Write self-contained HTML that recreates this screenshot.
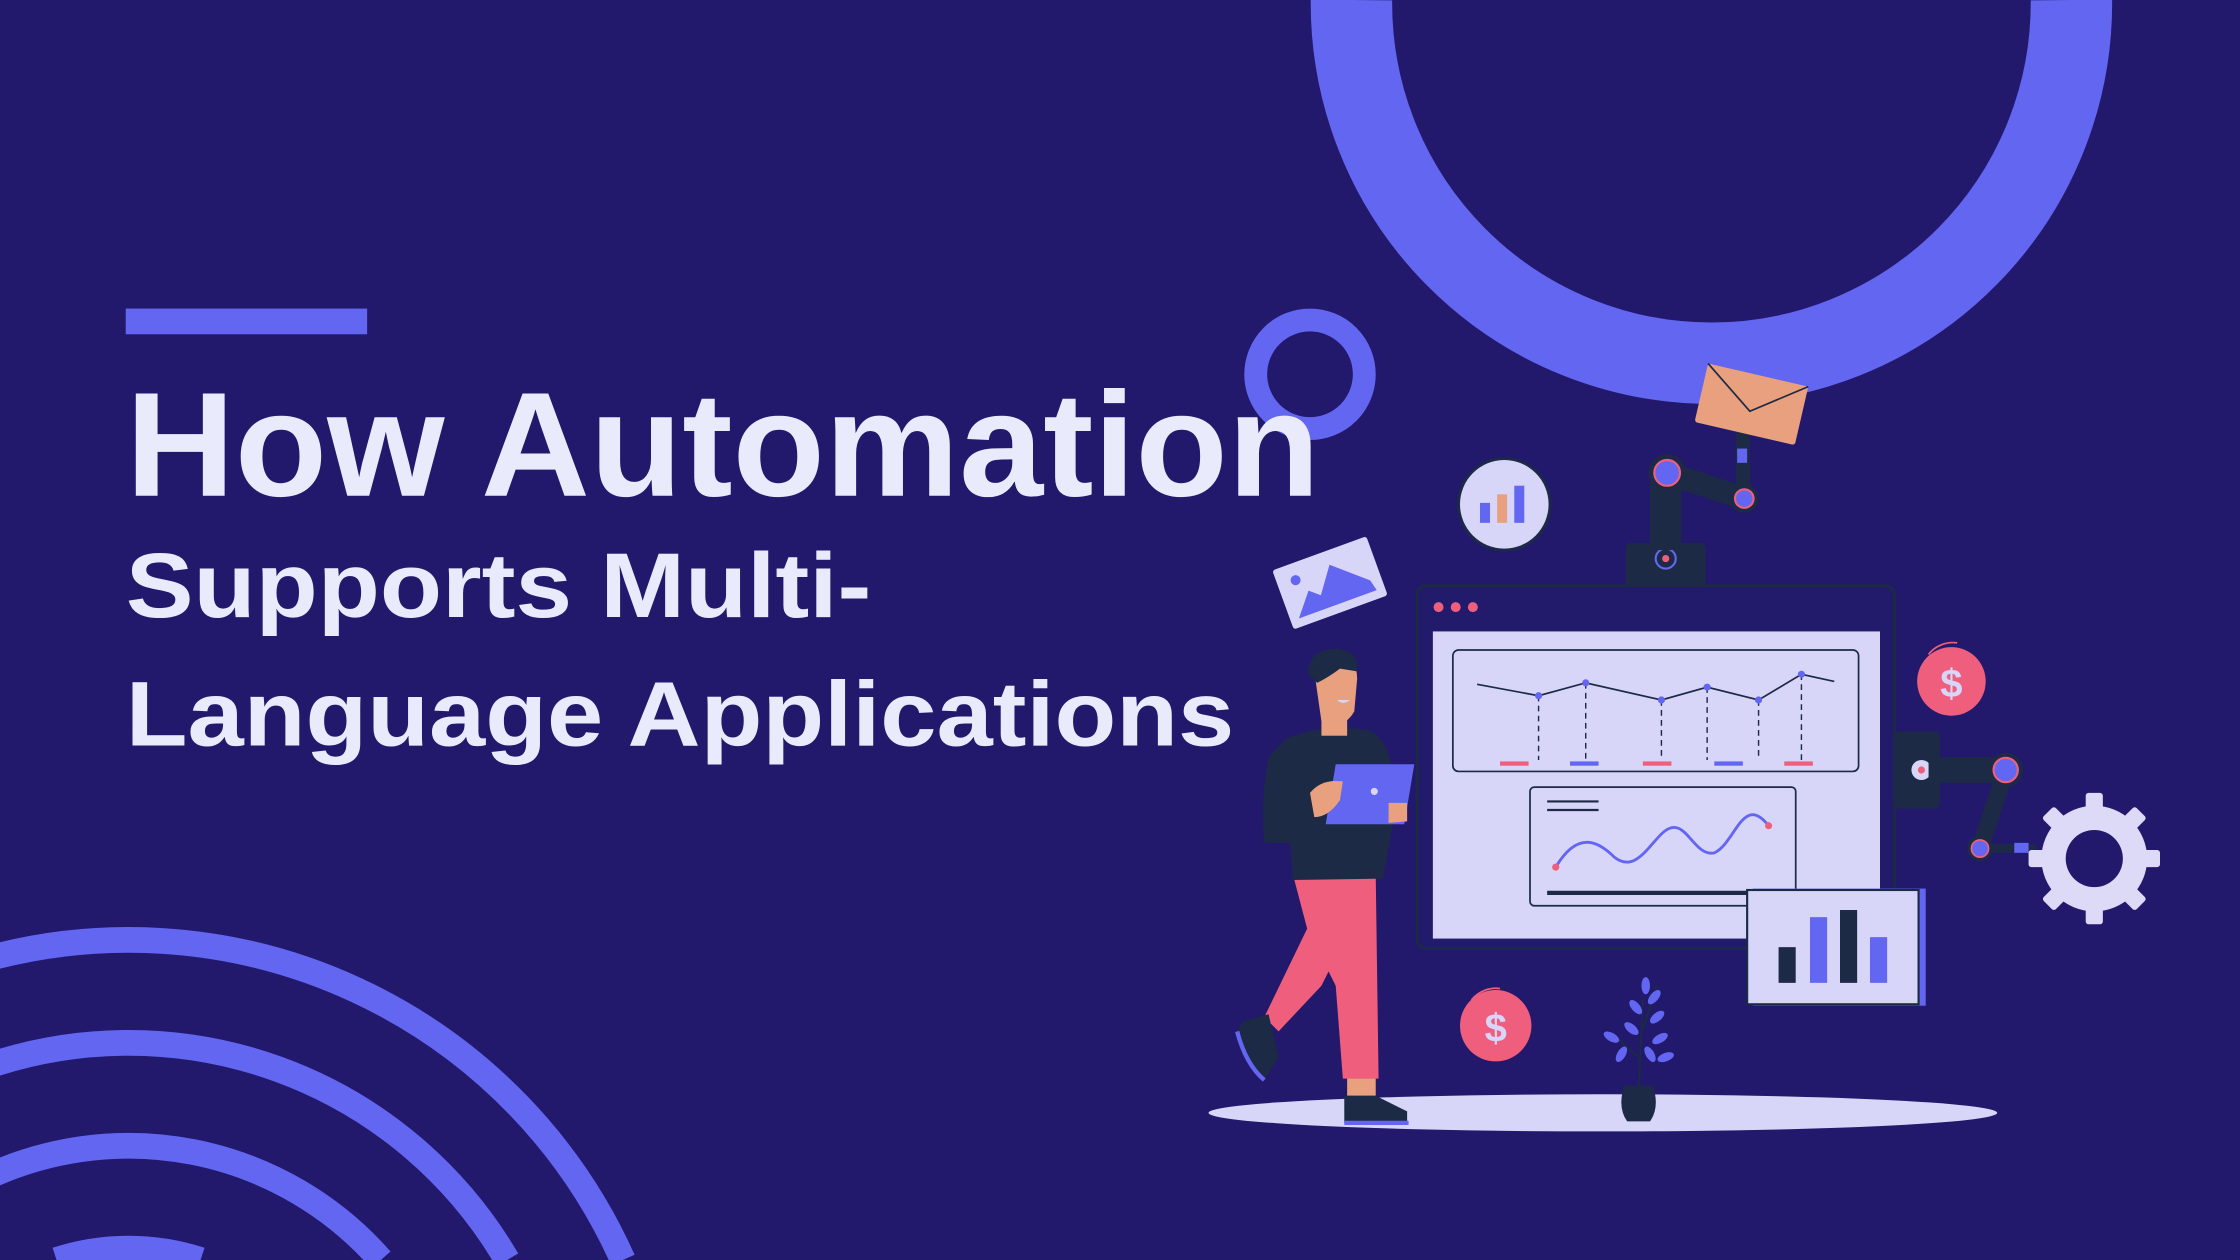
<!DOCTYPE html>
<html><head><meta charset="utf-8"><style>
html,body{margin:0;padding:0;background:#22196c;width:2240px;height:1260px;overflow:hidden;}
svg{display:block}
</style></head><body>
<svg width="2240" height="1260" viewBox="0 0 1568 882" xmlns="http://www.w3.org/2000/svg">
<rect width="1568" height="882" fill="#22196c"/>
<path d="M946.01 0 A252 252 0 1 0 1449.99 0" fill="none" stroke="#6366f1" stroke-width="57"/>
<circle cx="917" cy="262" r="38" fill="none" stroke="#6366f1" stroke-width="16"/>
<g fill="none" stroke="#6366f1" stroke-width="18">
<path d="M-15 672.8 A379 379 0 0 1 436 882"/>
<path d="M-15 748.5 A307 307 0 0 1 355 882"/>
<path d="M-15 826.8 A235 235 0 0 1 266.6 882"/>
<path d="M39.6 882 A163 163 0 0 1 140.4 882"/>
</g>
<rect x="88" y="216" width="169" height="18" fill="#6366f1"/>
<g font-family="Liberation Sans, sans-serif" font-weight="bold" fill="#e9ebfd">
<text x="88" y="347" font-size="104" textLength="836" lengthAdjust="spacingAndGlyphs">How Automation</text>
<text x="88" y="432" font-size="64" textLength="522" lengthAdjust="spacingAndGlyphs">Supports Multi-</text>
<text x="88" y="522" font-size="64" textLength="776" lengthAdjust="spacingAndGlyphs">Language Applications</text>
</g>
<ellipse cx="1122" cy="779" rx="276" ry="13" fill="#d8d6f8"/>
<rect x="1138" y="380" width="56" height="32" rx="4" fill="#1c2a45"/>
<circle cx="1166" cy="391" r="7" fill="none" stroke="#6366f1" stroke-width="1.5"/>
<circle cx="1166" cy="391" r="2.5" fill="#ef5f7d"/>
<rect x="1155" y="330" width="22" height="55" fill="#1c2a45"/>
<line x1="1167" y1="331" x2="1221" y2="349" stroke="#1c2a45" stroke-width="16" stroke-linecap="round"/>
<rect x="1215" y="300" width="10" height="48" fill="#1c2a45"/>
<rect x="1216" y="314" width="7" height="10" fill="#6366f1"/>
<circle cx="1167" cy="331" r="13" fill="#1c2a45"/>
<circle cx="1167" cy="331" r="9" fill="#6366f1" stroke="#ef5f7d" stroke-width="1.5"/>
<circle cx="1221" cy="349" r="10" fill="#1c2a45"/>
<circle cx="1221" cy="349" r="6.5" fill="#6366f1" stroke="#ef5f7d" stroke-width="1.5"/>
<g transform="rotate(13 1226 283)">
<rect x="1190" y="262" width="72" height="42" fill="#e8a07e" rx="2"/>
<polyline points="1190,262 1226,288 1262,262" fill="none" stroke="#1c2a45" stroke-width="1.2"/>
</g>
<circle cx="1053" cy="353" r="33" fill="#1c2a45"/>
<circle cx="1053" cy="353" r="31" fill="#d8d6f8"/>
<rect x="1036" y="352" width="7" height="14" fill="#6366f1"/>
<rect x="1048" y="346" width="7" height="20" fill="#e8a07e"/>
<rect x="1060" y="340" width="7" height="26" fill="#6366f1"/>
<g transform="rotate(-20 931 408)">
<rect x="896" y="386" width="70" height="44" fill="#d8d6f8" rx="2"/>
<path d="M902 424 L915 408 L922 414 L935 396 L958 416 L960 424 Z" fill="#6366f1"/>
<circle cx="909" cy="398" r="3.5" fill="#6366f1"/>
</g>
<rect x="992" y="410" width="334" height="254" rx="6" fill="#221a6a" stroke="#1c2a45" stroke-width="2"/>
<circle cx="1007" cy="425" r="3.5" fill="#ef5f7d"/>
<circle cx="1019" cy="425" r="3.5" fill="#ef5f7d"/>
<circle cx="1031" cy="425" r="3.5" fill="#ef5f7d"/>
<rect x="1003" y="442" width="313" height="215" fill="#d8d6f8"/>
<rect x="1017" y="455" width="284" height="85" rx="4" fill="none" stroke="#1c2a45" stroke-width="1.2"/>
<polyline points="1034,479 1077,487 1110,478 1163,490 1195,481 1231,490 1261,472 1284,477" fill="none" stroke="#1c2a45" stroke-width="1.2"/>
<g stroke="#1c2a45" stroke-width="1" stroke-dasharray="4,3">
<line x1="1077" y1="487" x2="1077" y2="532"/><line x1="1110" y1="478" x2="1110" y2="532"/>
<line x1="1163" y1="490" x2="1163" y2="532"/><line x1="1195" y1="481" x2="1195" y2="532"/>
<line x1="1231" y1="490" x2="1231" y2="532"/><line x1="1261" y1="472" x2="1261" y2="532"/>
</g>
<g fill="#6366f1"><circle cx="1077" cy="487" r="2.5"/><circle cx="1110" cy="478" r="2.5"/><circle cx="1163" cy="490" r="2.5"/><circle cx="1195" cy="481" r="2.5"/><circle cx="1231" cy="490" r="2.5"/><circle cx="1261" cy="472" r="2.5"/></g>
<rect x="1050" y="533" width="20" height="3" fill="#ef5f7d"/>
<rect x="1099" y="533" width="20" height="3" fill="#6366f1"/>
<rect x="1150" y="533" width="20" height="3" fill="#ef5f7d"/>
<rect x="1200" y="533" width="20" height="3" fill="#6366f1"/>
<rect x="1249" y="533" width="20" height="3" fill="#ef5f7d"/>
<rect x="1071" y="551" width="186" height="83" rx="3" fill="none" stroke="#1c2a45" stroke-width="1.2"/>
<line x1="1083" y1="561" x2="1119" y2="561" stroke="#1c2a45" stroke-width="1.5"/>
<line x1="1083" y1="567" x2="1119" y2="567" stroke="#1c2a45" stroke-width="1.5"/>
<path d="M1089 607 C1105 580 1120 590 1130 600 C1145 612 1155 590 1165 582 C1180 570 1185 600 1200 597 C1215 590 1220 555 1238 578" fill="none" stroke="#6366f1" stroke-width="2"/>
<circle cx="1089" cy="607" r="2.5" fill="#ef5f7d"/><circle cx="1238" cy="578" r="2.5" fill="#ef5f7d"/>
<line x1="1083" y1="625" x2="1240" y2="625" stroke="#1c2a45" stroke-width="3"/>
<rect x="1227" y="622" width="121" height="82" fill="#6366f1"/>
<rect x="1223" y="623" width="120" height="80" fill="#d8d6f8" stroke="#1c2a45" stroke-width="1.5"/>
<rect x="1245" y="663" width="12" height="25" fill="#1c2a45"/>
<rect x="1267" y="642" width="12" height="46" fill="#6366f1"/>
<rect x="1288" y="637" width="12" height="51" fill="#1c2a45"/>
<rect x="1309" y="656" width="12" height="32" fill="#6366f1"/>
<rect x="1326" y="512" width="32" height="54" rx="4" fill="#1c2a45"/>
<circle cx="1345" cy="539" r="7" fill="#d8d6f8"/><circle cx="1345" cy="539" r="2.5" fill="#ef5f7d"/>
<line x1="1350" y1="539" x2="1404" y2="539" stroke="#1c2a45" stroke-width="18"/>
<line x1="1404" y1="539" x2="1386" y2="594" stroke="#1c2a45" stroke-width="12"/>
<line x1="1386" y1="594" x2="1425" y2="594" stroke="#1c2a45" stroke-width="6"/>
<rect x="1410" y="590" width="10" height="7" fill="#6366f1"/>
<circle cx="1404" cy="539" r="12" fill="#1c2a45"/><circle cx="1404" cy="539" r="8.5" fill="#6366f1" stroke="#ef5f7d" stroke-width="1.5"/>
<circle cx="1386" cy="594" r="9" fill="#1c2a45"/><circle cx="1386" cy="594" r="6" fill="#6366f1" stroke="#ef5f7d" stroke-width="1.2"/>
<g fill="#dcdaf7" transform="translate(1466 601)">
<circle r="37"/>
<g id="t"><rect x="-6" y="-46" width="12" height="14" rx="2"/></g>
<use href="#t" transform="rotate(45)"/><use href="#t" transform="rotate(90)"/><use href="#t" transform="rotate(135)"/>
<use href="#t" transform="rotate(180)"/><use href="#t" transform="rotate(225)"/><use href="#t" transform="rotate(270)"/><use href="#t" transform="rotate(315)"/>
<circle r="20" fill="#22196c"/>
</g>
<g font-family="Liberation Sans, sans-serif" font-weight="bold" fill="#d8d6f8" text-anchor="middle">
<circle cx="1366" cy="477" r="24" fill="#ef5f7d"/>
<text x="1366" y="488" font-size="28">$</text>
<circle cx="1047" cy="718" r="25" fill="#ef5f7d"/>
<text x="1047" y="729" font-size="28">$</text>
</g>
<path d="M1350 458 A22 22 0 0 1 1370 450" fill="none" stroke="#ef5f7d" stroke-width="1.2"/>
<path d="M1030 700 A22 22 0 0 1 1050 692" fill="none" stroke="#ef5f7d" stroke-width="1.2"/>
<path d="M1147 765 L1150 700 M1150 720 L1160 690 M1147 740 L1130 725" stroke="#1c2a45" stroke-width="1.5" fill="none"/>
<g fill="#6366f1">
<ellipse cx="1152" cy="690" rx="3" ry="6"/><ellipse cx="1158" cy="698" rx="3" ry="6" transform="rotate(40 1158 698)"/>
<ellipse cx="1145" cy="705" rx="3" ry="6" transform="rotate(-40 1145 705)"/><ellipse cx="1160" cy="712" rx="3" ry="6" transform="rotate(50 1160 712)"/>
<ellipse cx="1142" cy="720" rx="3" ry="6" transform="rotate(-50 1142 720)"/><ellipse cx="1162" cy="727" rx="3" ry="6" transform="rotate(60 1162 727)"/>
<ellipse cx="1128" cy="726" rx="3" ry="6" transform="rotate(-60 1128 726)"/><ellipse cx="1135" cy="738" rx="3" ry="6" transform="rotate(30 1135 738)"/>
<ellipse cx="1155" cy="738" rx="3" ry="6" transform="rotate(-30 1155 738)"/><ellipse cx="1166" cy="740" rx="3" ry="6" transform="rotate(70 1166 740)"/>
</g>
<path d="M1137 760 L1157 760 Q1162 775 1155 785 L1139 785 Q1132 775 1137 760 Z" fill="#1c2a45"/>
<path d="M915 650 L940 660 L925 690 L895 722 L885 712 Z" fill="#ef5f7d"/>
<path d="M870 715 L888 710 L895 740 L885 756 Q872 740 866 722 Z" fill="#1c2a45"/>
<path d="M866 722 Q872 745 885 756" stroke="#6366f1" stroke-width="3" fill="none"/>
<path d="M905 612 L963 612 L965 755 L940 755 L935 690 L915 650 Z" fill="#ef5f7d"/>
<rect x="943" y="755" width="20" height="12" fill="#e8a07e"/>
<path d="M941 767 L963 767 L985 778 L985 786 L941 786 Z" fill="#1c2a45"/>
<line x1="941" y1="786" x2="986" y2="786" stroke="#6366f1" stroke-width="3"/>
<path d="M900 517 Q930 505 960 512 Q975 520 978 560 L968 615 L905 616 L903 590 L885 590 Q882 560 888 530 Z" fill="#1c2a45"/>
<rect x="925" y="495" width="18" height="20" fill="#e8a07e"/>
<path d="M920 470 Q920 460 935 458 Q950 460 950 475 L948 498 Q940 512 925 505 Z" fill="#e8a07e"/>
<path d="M916 472 Q915 455 935 454 Q952 456 950 470 L938 468 Q930 474 922 478 Z" fill="#1c2a45"/>
<path d="M936 490 Q940 494 945 490 Z" fill="#d8d6f8"/>
<path d="M935 535 L990 535 L983 577 L928 577 Z" fill="#6366f1"/>
<circle cx="962" cy="554" r="2.5" fill="#d8d6f8"/>
<path d="M917 555 Q925 545 940 547 L938 560 Q930 572 920 572 Z" fill="#e8a07e"/>
<path d="M972 562 L985 562 L985 575 L972 576 Z" fill="#e8a07e"/>
</svg>
</body></html>
